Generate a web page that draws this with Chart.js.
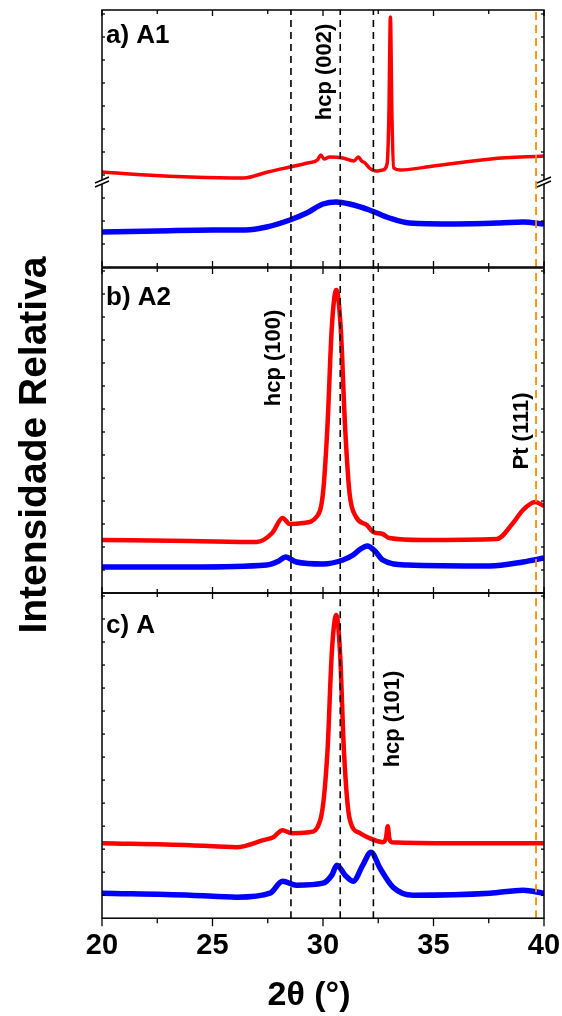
<!DOCTYPE html>
<html>
<head>
<meta charset="utf-8">
<script src="https://cdn.jsdelivr.net/npm/chart.js@4.4.1/dist/chart.umd.min.js"></script>
<style>
  html, body { margin: 0; padding: 0; background: #fff; }
  #wrap { position: relative; width: 562px; height: 1016px; }
  #wrap canvas { position: absolute; left: 0; top: 0; }
</style>
</head>
<body>
<div id="wrap">
  <canvas id="panelA" width="562" height="1016"></canvas>
  <canvas id="panelB" width="562" height="1016"></canvas>
  <canvas id="panelC" width="562" height="1016"></canvas>
</div>
<script>
// 2theta (deg) and relative intensity (a.u.)
const a1RedX  = [20, 22, 24, 26.4, 27.5, 28.5, 29.3, 29.75, 29.9, 30.05, 30.3, 30.9, 31.4, 31.6, 31.75, 31.9, 32.1, 32.4, 32.7, 32.9, 32.98, 33.05, 33.12, 33.2, 33.5, 35, 37.6, 40];
const a1RedY  = [95, 92, 90, 89, 95, 100, 104, 107, 112, 108, 110, 109, 106, 110, 106, 104, 99, 96, 97, 103, 150, 250, 150, 99, 97, 101, 108, 111];
const a1BlueX = [20, 22.5, 25, 26.5, 27.45, 28.5, 29.26, 30, 30.6, 31.2, 32.1, 33, 33.9, 36, 38, 39.05, 40];
const a1BlueY = [35, 36, 37, 37, 40, 47, 54, 63, 65, 63, 57, 49, 44, 43, 44, 45, 43];

const a2RedX  = [20, 24, 27, 27.7, 28.17, 28.5, 29.1, 29.7, 30.0, 30.2, 30.4, 30.6, 30.8, 31.0, 31.2, 31.5, 31.98, 32.27, 32.7, 33.0, 34.5, 37.86, 38.6, 39.05, 39.6, 40];
const a2RedY  = [53, 52, 51, 60, 75, 69, 70, 76, 100, 166, 266, 303, 266, 166, 100, 76, 68, 61, 59, 55, 53, 54, 70, 83, 91, 87];
const a2BlueX = [20, 24, 27.45, 28.0, 28.3, 28.8, 30.0, 30.9, 31.36, 31.7, 32.0, 32.35, 32.7, 33.8, 37.55, 39.05, 40];
const a2BlueY = [26, 26, 28, 32, 36, 31, 29, 33, 38, 44, 47, 42, 33, 28, 27, 31, 35];

const aRedX   = [20, 24, 26.1, 27.3, 27.75, 28.17, 28.58, 29.4, 29.9, 30.2, 30.4, 30.6, 30.77, 30.95, 31.2, 31.67, 32.1, 32.7, 32.85, 32.93, 33.0, 33.1, 36, 40];
const aRedY   = [75, 73, 71, 78, 81, 88, 85, 86, 100, 166, 266, 303, 266, 166, 100, 85, 80, 76, 80, 92, 80, 76, 75, 75];
const aBlueX  = [20, 24, 26.1, 27.6, 28.17, 28.8, 30.0, 30.4, 30.63, 31.0, 31.36, 31.8, 32.17, 32.58, 33.17, 34.07, 37.55, 39.05, 40];
const aBlueY  = [25, 23, 21, 25, 37, 33, 35, 43, 53, 43, 37, 53, 66, 50, 31, 23, 25, 28, 25];

// reference positions (2theta)
const hcpLines = [28.55, 30.78, 32.28];
const ptLine = 39.64;
const xTicks = [20, 25, 30, 35, 40];

const FONT = "'Liberation Sans', Arial, Helvetica, sans-serif";

function pts(xs, ys) {
    return xs.map((x, i) => ({ x: x, y: ys[i] }));
}

function refLine(x, ymax, color, width, dash) {
    return {
        data: [{ x: x, y: 0 }, { x: x, y: ymax }],
        borderColor: color,
        borderWidth: width,
        borderDash: dash,
        pointRadius: 0,
        order: -1
    };
}

function curve(xs, ys, color, width) {
    return {
        data: pts(xs, ys),
        borderColor: color,
        borderWidth: width,
        pointRadius: 0,
        cubicInterpolationMode: 'monotone',
        borderJoinStyle: 'round'
    };
}

const panelFrame = {
    id: 'panelFrame',
    afterDatasetsDraw(chart, args, opts) {
        const ctx = chart.ctx;
        const { left, right, top, bottom } = chart.chartArea;
        const xs = chart.scales.x, ys = chart.scales.y;
        const line = (x1, y1, x2, y2) => {
            ctx.beginPath(); ctx.moveTo(x1, y1); ctx.lineTo(x2, y2); ctx.stroke();
        };
        ctx.save();
        ctx.strokeStyle = '#000';
        ctx.lineWidth = 1.5;
        ctx.strokeRect(left, top, right - left, bottom - top);

        // x ticks every 2.5 deg
        ctx.lineWidth = 1.3;
        for (let v = 20; v <= 40; v += 2.5) {
            const px = xs.getPixelForValue(v);
            const major = v % 5 === 0;
            const len = major ? 6 : 4;
            line(px, top, px, top + len);
            if (opts.outerBottom) line(px, bottom, px, bottom + (major ? 8 : 5));
            else line(px, bottom, px, bottom - len);
        }
        // small y ticks
        for (let v = 23; v < ys.max; v += 23) {
            const py = ys.getPixelForValue(v);
            line(left, py, left + 3, py);
            line(right, py, right - 3, py);
        }

        // axis break marks
        if (opts.breakAt !== undefined) {
            const py = ys.getPixelForValue(opts.breakAt);
            [left, right].forEach(bx => {
                ctx.fillStyle = '#fff';
                ctx.fillRect(bx - 2, py - 2, 4, 4);
                ctx.lineWidth = 1.4;
                line(bx - 7, py + 1, bx + 7, py - 5);
                line(bx - 7, py + 5, bx + 7, py - 1);
            });
        }

        ctx.fillStyle = '#000';
        // panel label
        ctx.font = 'bold 26px ' + FONT;
        ctx.textAlign = 'left';
        ctx.textBaseline = 'alphabetic';
        ctx.fillText(opts.label, left + 4, top + opts.labelDy);

        // rotated peak labels
        ctx.font = 'bold 22px ' + FONT;
        ctx.textAlign = 'center';
        ctx.textBaseline = 'middle';
        (opts.notes || []).forEach(n => {
            ctx.save();
            ctx.translate(xs.getPixelForValue(n.x), ys.getPixelForValue(n.y));
            ctx.rotate(-Math.PI / 2);
            ctx.fillText(n.text, 0, 0);
            ctx.restore();
        });

        if (opts.yTitle) {
            ctx.save();
            ctx.font = 'bold 39px ' + FONT;
            ctx.translate(35, 445);
            ctx.rotate(-Math.PI / 2);
            ctx.fillText(opts.yTitle, 0, 0);
            ctx.restore();
        }
        if (opts.xTitle) {
            ctx.font = 'bold 34px ' + FONT;
            ctx.fillText(opts.xTitle, 309, 996);
        }
        ctx.restore();
    }
};

function makePanel(id, cfg) {
    const datasets = [
        curve(cfg.redX, cfg.redY, '#ff0000', cfg.redWidth),
        curve(cfg.blueX, cfg.blueY, '#0000ff', 5.5)
    ];
    hcpLines.forEach(x => datasets.push(refLine(x, cfg.ymax, '#000', 1.6, [7, 5])));
    datasets.push(refLine(ptLine, cfg.ymax, '#ff8c00', 1.8, [8, 5]));

    return new Chart(document.getElementById(id), {
        type: 'line',
        data: { datasets: datasets },
        options: {
            responsive: false,
            animation: false,
            events: [],
            layout: { padding: cfg.padding },
            plugins: {
                legend: { display: false },
                tooltip: { enabled: false },
                panelFrame: cfg.frame
            },
            scales: {
                x: {
                    type: 'linear',
                    min: 20,
                    max: 40,
                    display: !!cfg.showX,
                    border: { display: false },
                    grid: { display: false, drawTicks: false },
                    afterBuildTicks: axis => {
                        axis.ticks = xTicks.map(v => ({ value: v }));
                    },
                    afterFit: axis => {
                        axis.paddingLeft = 0;
                        axis.paddingRight = 0;
                    },
                    ticks: {
                        color: '#000',
                        padding: 10,
                        maxRotation: 0,
                        autoSkip: false,
                        font: { family: FONT, size: 29, weight: 'bold' }
                    }
                },
                y: { min: 0, max: cfg.ymax, display: false }
            }
        },
        plugins: [panelFrame]
    });
}

makePanel('panelA', {
    redX: a1RedX, redY: a1RedY, blueX: a1BlueX, blueY: a1BlueY,
    ymax: 257, redWidth: 3.5,
    padding: { left: 102, right: 18, top: 10, bottom: 749 },
    frame: {
        label: 'a) A1', labelDy: 33, breakAt: 85,
        notes: [{ text: 'hcp (002)', x: 30.1, y: 195 }]
    }
});

makePanel('panelB', {
    redX: a2RedX, redY: a2RedY, blueX: a2BlueX, blueY: a2BlueY,
    ymax: 325, redWidth: 4.5,
    padding: { left: 102, right: 18, top: 268, bottom: 423 },
    frame: {
        label: 'b) A2', labelDy: 37,
        notes: [{ text: 'hcp (100)', x: 27.8, y: 235 }, { text: 'Pt (111)', x: 39.0, y: 162 }],
        yTitle: 'Intensidade Relativa'
    }
});

makePanel('panelC', {
    redX: aRedX, redY: aRedY, blueX: aBlueX, blueY: aBlueY,
    ymax: 325, redWidth: 4.5,
    showX: true,
    padding: { left: 102, right: 18, top: 593, bottom: 43 },
    frame: {
        label: 'c) A', labelDy: 40, outerBottom: true,
        notes: [{ text: 'hcp (101)', x: 33.17, y: 199 }],
        xTitle: '2θ (°)'
    }
});
</script>
</body>
</html>
